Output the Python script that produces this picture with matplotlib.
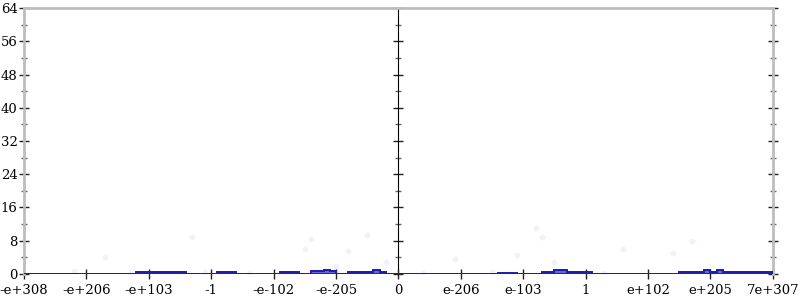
import numpy as np
import matplotlib
matplotlib.use('Agg')
import matplotlib.pyplot as plt

# tick labels along the x axis (evenly spaced positions 0..12)
x_labels = ['-e+308', '-e+206', '-e+103', '-1', '-e-102', '-e-205', '0',
            'e-206', 'e-103', '1', 'e+102', 'e+205', '7e+307']
y_ticks = [0, 8, 16, 24, 32, 40, 48, 56, 64]

# histogram counts, 120 bins of width 0.1 across the 12 tick intervals
counts = [0.0] * 120
bumps = [
    (18, 22, 0.5), (23, 25, 0.5), (31, 33, 0.5),
    (41, 43, 0.5), (46, 49, 0.6), (52, 53, 0.5), (54, 57, 0.5),
    (76, 78, 0.3), (83, 90, 0.5),
    (105, 119, 0.5),
]
for a, b, h in bumps:
    for i in range(a, b + 1):
        counts[i] = h
peaks = {48: 1.0, 56: 1.0, 85: 1.0, 86: 1.0, 109: 0.9, 111: 0.9}
for i, h in peaks.items():
    counts[i] = h

# faint scattered points
dots_x = [0.8, 1.3, 1.7, 2.7, 2.9, 3.6, 4.5, 4.6, 5.0, 5.2, 5.5, 5.8,
          6.4, 6.9, 7.5, 7.9, 8.2, 8.3, 8.5, 9.3, 9.6, 10.4, 10.7, 11.0]
dots_y = [0.6, 4.0, 0.3, 9.0, 0.4, 0.2, 6.0, 8.5, 2.0, 5.5, 9.5, 3.0,
          0.3, 3.5, 0.4, 4.5, 11.0, 9.0, 3.0, 0.3, 6.0, 5.0, 8.0, 0.3]

fig = plt.figure(figsize=(8, 3), dpi=100)
ax = fig.add_axes([0.03, 0.0867, 0.936, 0.8866])

edges = np.arange(121) * 0.1
ax.scatter(dots_x, dots_y, s=10, color='#f1f1fb', zorder=1)
ax.stairs(counts, edges, fill=True, color='#4a4ad8', alpha=0.85, zorder=3)
ax.stairs(counts, edges, color='#1c1ca8', linewidth=1.4, zorder=4)

ax.set_xlim(0, 12)
ax.set_ylim(0, 64)

grey = '#bdbdbd'
for s in ['left', 'right', 'top', 'bottom']:
    ax.spines[s].set_color(grey)
    ax.spines[s].set_linewidth(2)
ax.spines['bottom'].set_visible(False)
ax.axhline(0, color='#1c1ca8', linewidth=2, zorder=5)

ax.set_xticks(range(13))
ax.set_xticklabels(x_labels)
ax.set_yticks(y_ticks)
ax.set_yticks(range(4, 64, 8), minor=True)
ax.tick_params(axis='both', which='major', direction='inout', length=7,
               width=1, color='#222222', labelsize=9.5, pad=1)
ax.tick_params(axis='x', pad=4)
ax.tick_params(axis='y', which='minor', direction='inout', length=4,
               width=1, color='#666666')
ax.tick_params(axis='y', right=True, which='both')
ax.tick_params(axis='x', top=False)
for lab in ax.get_xticklabels() + ax.get_yticklabels():
    lab.set_family('DejaVu Serif')

# middle axis at x = 0
mid = ax.secondary_yaxis(0.5)
mid.spines['left'].set_color(grey)
mid.spines['left'].set_linewidth(2)
mid.set_yticks(y_ticks)
mid.set_yticks(range(4, 64, 8), minor=True)
mid.set_yticklabels([])
mid.tick_params(which='major', direction='inout', length=7, width=1, color='#222222')
mid.tick_params(which='minor', direction='inout', length=4, width=1, color='#666666')

fig.savefig('out.png', dpi=100)
